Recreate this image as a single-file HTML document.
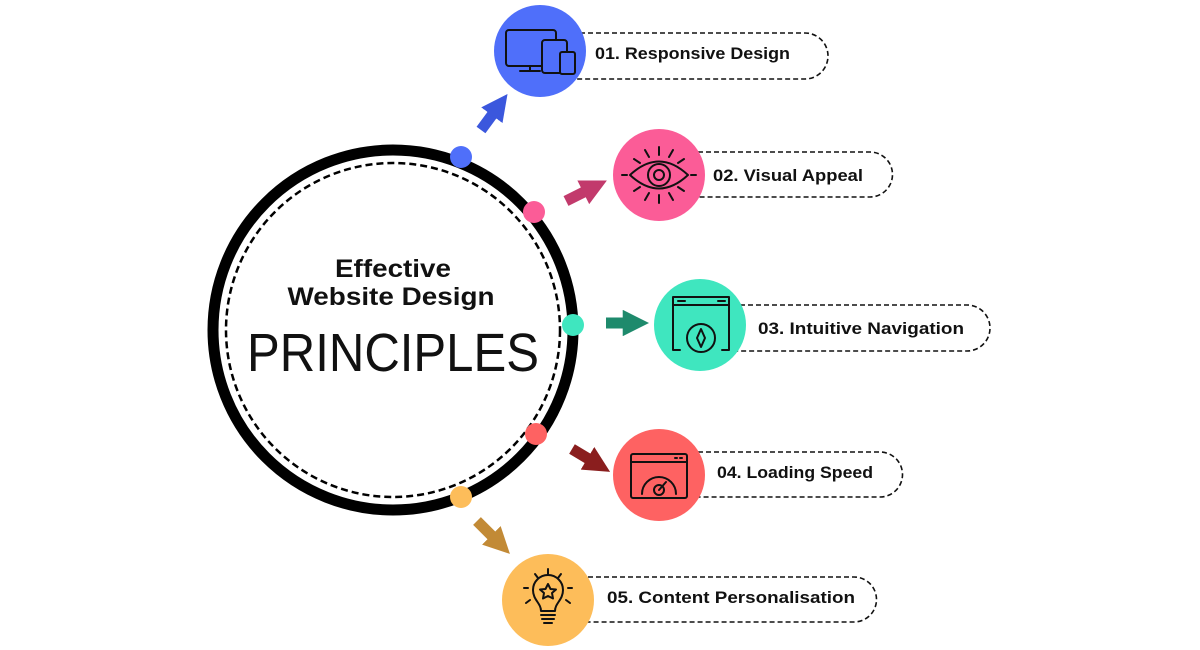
<!DOCTYPE html>
<html><head><meta charset="utf-8"><style>
html,body{margin:0;padding:0;background:#fff;}
svg{display:block}
text{font-family:"Liberation Sans",sans-serif;}
</style></head><body>
<svg width="1200" height="650" viewBox="0 0 1200 650" xmlns="http://www.w3.org/2000/svg">
<defs>
<marker id="ah" viewBox="0 0 10 10" refX="2" refY="5" markerWidth="2.4" markerHeight="2.4" orient="auto"><path d="M0,0L10,5L0,10z" fill="context-stroke"/></marker>
</defs>
<circle cx="393" cy="330" r="180" fill="none" stroke="#000" stroke-width="11"/>
<circle cx="393" cy="330" r="167" fill="none" stroke="#000" stroke-width="2.5" stroke-dasharray="7,4"/>
<text x="393" y="277" text-anchor="middle" font-size="25" font-weight="bold" fill="#111" textLength="116" lengthAdjust="spacingAndGlyphs">Effective</text>
<text x="391" y="305" text-anchor="middle" font-size="25" font-weight="bold" fill="#111" textLength="207" lengthAdjust="spacingAndGlyphs">Website Design</text>
<text x="393" y="371" text-anchor="middle" font-size="54" fill="#111" textLength="292" lengthAdjust="spacingAndGlyphs">PRINCIPLES</text>
<g fill="none" stroke="#111" stroke-width="1.6" stroke-dasharray="5,3">
<path d="M540,33H805a23,23 0 0 1 0,46H540"/>
<path d="M658,152H870a22.5,22.5 0 0 1 0,45H658"/>
<path d="M700,305H967a23,23 0 0 1 0,46H700"/>
<path d="M658,452H880a22.5,22.5 0 0 1 0,45H658"/>
<path d="M548,577H854a22.5,22.5 0 0 1 0,45H548"/>
</g>
<circle cx="540" cy="51" r="46" fill="#4f6ffa"/>
<circle cx="659" cy="175" r="46" fill="#fb5c97"/>
<circle cx="700" cy="325" r="46" fill="#3fe6bf"/>
<circle cx="659" cy="475" r="46" fill="#fe6262"/>
<circle cx="548" cy="600" r="46" fill="#fdbd5a"/>
<g font-size="17" font-weight="bold" fill="#111" lengthAdjust="spacingAndGlyphs">
<text x="595" y="59" textLength="195" lengthAdjust="spacingAndGlyphs">01. Responsive Design</text>
<text x="713" y="181" textLength="150" lengthAdjust="spacingAndGlyphs">02. Visual Appeal</text>
<text x="758" y="334" textLength="206" lengthAdjust="spacingAndGlyphs">03. Intuitive Navigation</text>
<text x="717" y="478" textLength="156" lengthAdjust="spacingAndGlyphs">04. Loading Speed</text>
<text x="607" y="603" textLength="248" lengthAdjust="spacingAndGlyphs">05. Content Personalisation</text>
</g>
<circle cx="461" cy="157" r="11" fill="#4f6ffa"/>
<circle cx="534" cy="212" r="11" fill="#fb5c97"/>
<circle cx="573" cy="325" r="11" fill="#3fe6bf"/>
<circle cx="536" cy="434" r="11" fill="#fe6262"/>
<circle cx="461" cy="497" r="11" fill="#fdbd5a"/>
<g stroke-width="11">
<line x1="481" y1="130" x2="495" y2="111" stroke="#3b57dd" marker-end="url(#ah)"/>
<line x1="566" y1="201" x2="588" y2="190" stroke="#c23a6c" marker-end="url(#ah)"/>
<line x1="606" y1="323" x2="628" y2="323" stroke="#1e8a6c" marker-end="url(#ah)"/>
<line x1="572" y1="449" x2="592" y2="461" stroke="#8a1e1e" marker-end="url(#ah)"/>
<line x1="477" y1="521" x2="495" y2="539" stroke="#c28a36" marker-end="url(#ah)"/>
</g>
<g fill="none" stroke="#111" stroke-width="2" stroke-linejoin="round" stroke-linecap="round">
<rect x="506" y="30" width="50" height="36" rx="3"/>
<path d="M520,71H540M530,66V71"/>
<rect x="542" y="40" width="25" height="33" rx="3" fill="#4f6ffa"/>
<rect x="560" y="52" width="15" height="22" rx="2" fill="#4f6ffa"/>
<path d="M630,175Q659,148 688,175Q659,202 630,175Z"/>
<circle cx="659" cy="175" r="11"/><circle cx="659" cy="175" r="5"/>
<path d="M659,147V155M645,150L649,157M673,150L669,157M634,159L640,163M684,159L678,163M659,195V203M645,200L649,193M673,200L669,193M634,191L640,187M684,191L678,187M627,175H622M691,175H696"/>
<path d="M673,312V297H729V312M673,298V343M729,298V343"/>
<path d="M673,305H729M678,301H685M718,301H725"/>
<path d="M673,350V343M729,350V343M673,350H680M729,350H722"/>
<circle cx="701" cy="338" r="14"/>
<path d="M701,329L705,338L701,347L697,338Z"/>
<rect x="631" y="454" width="56" height="44" rx="2"/>
<path d="M631,462H687M675,458H677M680,458H682"/>
<path d="M642,494A17,17 0 0 1 676,494"/>
<circle cx="659" cy="490" r="5"/><path d="M659,490L666,482"/>
<path d="M541,611C541,603 533,600 533,590A15,15 0 0 1 563,590C563,600 555,603 555,611Z"/>
<path d="M541,615H555M542,619H554M544,623H552"/>
<path d="M548,584L550.5,589L556,589.5L552,593L553,598.5L548,596L543,598.5L544,593L540,589.5L545.5,589Z"/>
<path d="M548,569V574M535,574L538,578M561,574L558,578M528,588H524M568,588H572M530,600L526,603M566,600L570,603"/>
</g>
</svg>
</body></html>
